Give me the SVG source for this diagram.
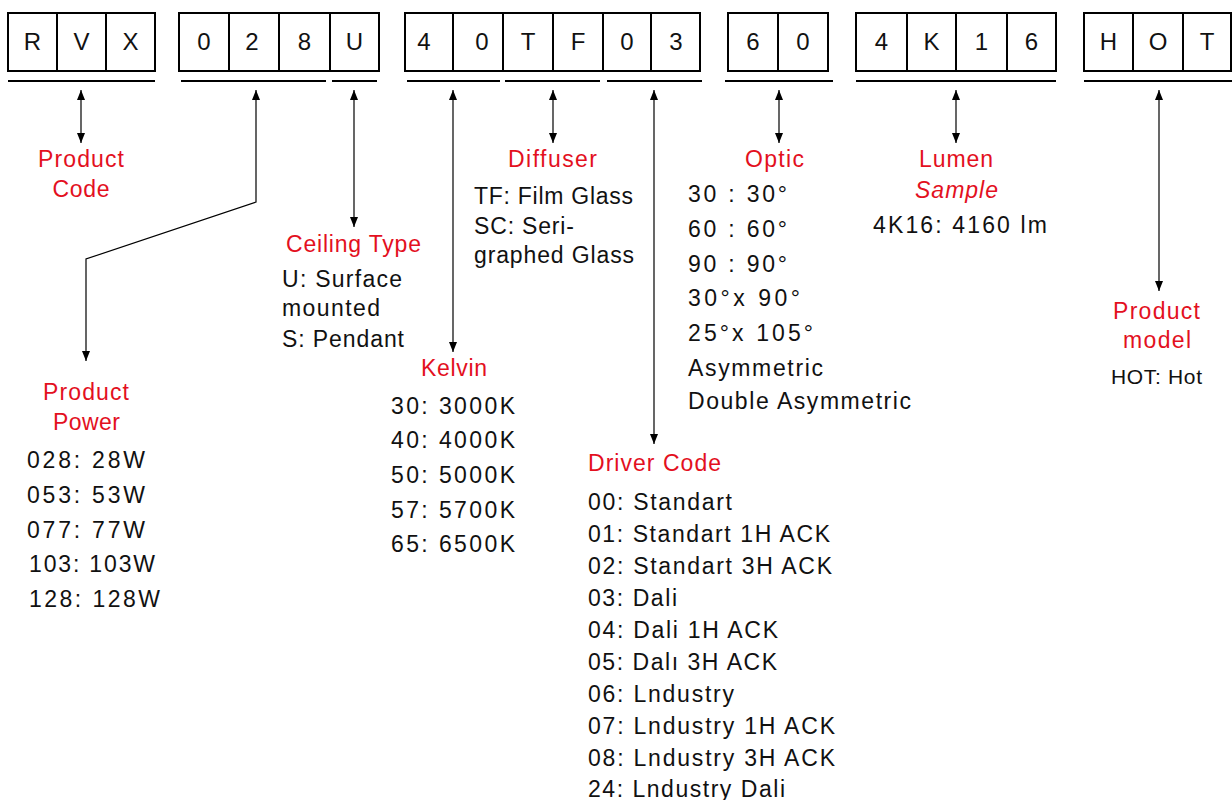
<svg xmlns="http://www.w3.org/2000/svg" width="1232" height="800" viewBox="0 0 1232 800">
<style>
text{font-family:"Liberation Sans",Arial,sans-serif;font-size:23px;fill:#111}
.r{fill:#e3101e}
.c{text-anchor:middle}
.bx{font-size:24px}
.sm{font-size:21px}
.it{font-style:italic}
.box{fill:#fff;stroke:#000;stroke-width:2}
.dv{stroke:#000;stroke-width:2}
.ul{stroke:#000;stroke-width:2.2}
.ar{fill:none;stroke:#000;stroke-width:1.2;marker-start:url(#ah);marker-end:url(#ah)}
</style>
<defs>
<marker id="ah" markerUnits="userSpaceOnUse" markerWidth="10" markerHeight="8" refX="10" refY="4" orient="auto-start-reverse"><path d="M0,0 L10,4 L0,8 z" fill="#000"/></marker>
</defs>
<rect width="1232" height="800" fill="#fff"/>

<g id="code-boxes">
<rect class="box" x="8" y="13" width="147" height="58"/>
<line class="dv" x1="57" y1="13" x2="57" y2="71"/><line class="dv" x1="106" y1="13" x2="106" y2="71"/>
<text class="c bx" x="32.5" y="50">R</text><text class="c bx" x="81.5" y="50">V</text><text class="c bx" x="130.5" y="50">X</text>

<rect class="box" x="179" y="13" width="200" height="58"/>
<line class="dv" x1="229" y1="13" x2="229" y2="71"/><line class="dv" x1="279" y1="13" x2="279" y2="71"/><line class="dv" x1="330" y1="13" x2="330" y2="71"/>
<text class="c bx" x="204" y="50">0</text><text class="c bx" x="252" y="50">2</text><text class="c bx" x="304.5" y="50">8</text><text class="c bx" x="354.5" y="50">U</text>

<rect class="box" x="405" y="13" width="295" height="58"/>
<line class="dv" x1="453" y1="13" x2="453" y2="71"/><line class="dv" x1="503" y1="13" x2="503" y2="71"/><line class="dv" x1="553" y1="13" x2="553" y2="71"/><line class="dv" x1="603" y1="13" x2="603" y2="71"/><line class="dv" x1="651" y1="13" x2="651" y2="71"/>
<text class="c bx" x="424" y="50">4</text><text class="c bx" x="482" y="50">0</text><text class="c bx" x="528" y="50">T</text><text class="c bx" x="578" y="50">F</text><text class="c bx" x="627" y="50">0</text><text class="c bx" x="676" y="50">3</text>

<rect class="box" x="728" y="13" width="100" height="58"/>
<line class="dv" x1="778" y1="13" x2="778" y2="71"/>
<text class="c bx" x="753" y="50">6</text><text class="c bx" x="803" y="50">0</text>

<rect class="box" x="856" y="13" width="200" height="58"/>
<line class="dv" x1="907" y1="13" x2="907" y2="71"/><line class="dv" x1="956" y1="13" x2="956" y2="71"/><line class="dv" x1="1007" y1="13" x2="1007" y2="71"/>
<text class="c bx" x="881.5" y="50">4</text><text class="c bx" x="931.5" y="50">K</text><text class="c bx" x="981.5" y="50">1</text><text class="c bx" x="1031.5" y="50">6</text>

<rect class="box" x="1084" y="13" width="147" height="58"/>
<line class="dv" x1="1133" y1="13" x2="1133" y2="71"/><line class="dv" x1="1183" y1="13" x2="1183" y2="71"/>
<text class="c bx" x="1108.5" y="50">H</text><text class="c bx" x="1158" y="50">O</text><text class="c bx" x="1207" y="50">T</text>
</g>

<g id="underlines">
<line class="ul" x1="8" y1="81" x2="155" y2="81"/>
<line class="ul" x1="181" y1="81" x2="326" y2="81"/>
<line class="ul" x1="332" y1="81" x2="377" y2="81"/>
<line class="ul" x1="407" y1="81" x2="500" y2="81"/>
<line class="ul" x1="505" y1="81" x2="600" y2="81"/>
<line class="ul" x1="607" y1="81" x2="702" y2="81"/>
<line class="ul" x1="725" y1="81" x2="833" y2="81"/>
<line class="ul" x1="856" y1="81" x2="1056" y2="81"/>
<line class="ul" x1="1084" y1="81" x2="1232" y2="81"/>
</g>

<g id="connectors">
<path class="ar" d="M81,90 V143"/>
<path class="ar" d="M256,90 V202 L86,259 V361"/>
<path class="ar" d="M354,90 V227"/>
<path class="ar" d="M453,90 V352"/>
<path class="ar" d="M553,90 V143"/>
<path class="ar" d="M654,90 V444"/>
<path class="ar" d="M779,90 V143"/>
<path class="ar" d="M956,90 V143"/>
<path class="ar" d="M1159,90 V291"/>
</g>

<g id="product-code">
<text class="r c" x="81" y="167" textLength="86" lengthAdjust="spacing">Product</text>
<text class="r c" x="81" y="197" textLength="57" lengthAdjust="spacing">Code</text>
</g>

<g id="product-power">
<text class="r c" x="86" y="400" textLength="86" lengthAdjust="spacing">Product</text>
<text class="r c" x="86.5" y="430" textLength="67" lengthAdjust="spacing">Power</text>
<text x="27" y="468" textLength="118" lengthAdjust="spacing">028: 28W</text>
<text x="27" y="503" textLength="118" lengthAdjust="spacing">053: 53W</text>
<text x="27" y="538" textLength="118" lengthAdjust="spacing">077: 77W</text>
<text x="29" y="572" textLength="126" lengthAdjust="spacing">103: 103W</text>
<text x="29" y="607" textLength="131" lengthAdjust="spacing">128: 128W</text>
</g>

<g id="ceiling-type">
<text class="r c" x="353.5" y="252" textLength="135" lengthAdjust="spacing">Ceiling Type</text>
<text x="282" y="287" textLength="120" lengthAdjust="spacing">U: Surface</text>
<text x="282" y="316" textLength="98" lengthAdjust="spacing">mounted</text>
<text x="282" y="347" textLength="122" lengthAdjust="spacing">S: Pendant</text>
</g>

<g id="kelvin">
<text class="r c" x="454" y="376" textLength="66" lengthAdjust="spacing">Kelvin</text>
<text x="391" y="414" textLength="124" lengthAdjust="spacing">30: 3000K</text>
<text x="391" y="448" textLength="124" lengthAdjust="spacing">40: 4000K</text>
<text x="391" y="483" textLength="124" lengthAdjust="spacing">50: 5000K</text>
<text x="391" y="518" textLength="124" lengthAdjust="spacing">57: 5700K</text>
<text x="391" y="552" textLength="124" lengthAdjust="spacing">65: 6500K</text>
</g>

<g id="diffuser">
<text class="r c" x="552.5" y="167" textLength="89" lengthAdjust="spacing">Diffuser</text>
<text x="474" y="204" textLength="159" lengthAdjust="spacing">TF: Film Glass</text>
<text x="474" y="234" textLength="100" lengthAdjust="spacing">SC: Seri-</text>
<text x="474" y="263" textLength="160" lengthAdjust="spacing">graphed Glass</text>
</g>

<g id="driver-code">
<text class="r" x="588" y="471" textLength="133" lengthAdjust="spacing">Driver Code</text>
<text x="588" y="510" textLength="144" lengthAdjust="spacing">00: Standart</text>
<text x="588" y="542" textLength="242" lengthAdjust="spacing">01: Standart 1H ACK</text>
<text x="588" y="574" textLength="244" lengthAdjust="spacing">02: Standart 3H ACK</text>
<text x="588" y="606" textLength="89" lengthAdjust="spacing">03: Dali</text>
<text x="588" y="638" textLength="190" lengthAdjust="spacing">04: Dali 1H ACK</text>
<text x="588" y="670" textLength="189" lengthAdjust="spacing">05: Dalı 3H ACK</text>
<text x="588" y="702" textLength="146" lengthAdjust="spacing">06: Lndustry</text>
<text x="588" y="734" textLength="247" lengthAdjust="spacing">07: Lndustry 1H ACK</text>
<text x="588" y="766" textLength="247" lengthAdjust="spacing">08: Lndustry 3H ACK</text>
<text x="588" y="797" textLength="197" lengthAdjust="spacing">24: Lndustry Dali</text>
</g>

<g id="optic">
<text class="r c" x="774.5" y="167" textLength="59" lengthAdjust="spacing">Optic</text>
<text x="688" y="202" textLength="99" lengthAdjust="spacing">30 : 30°</text>
<text x="688" y="237" textLength="99" lengthAdjust="spacing">60 : 60°</text>
<text x="688" y="272" textLength="99" lengthAdjust="spacing">90 : 90°</text>
<text x="688" y="306" textLength="112" lengthAdjust="spacing">30°x 90°</text>
<text x="688" y="341" textLength="125" lengthAdjust="spacing">25°x 105°</text>
<text x="688" y="376" textLength="135" lengthAdjust="spacing">Asymmetric</text>
<text x="688" y="409" textLength="223" lengthAdjust="spacing">Double Asymmetric</text>
</g>

<g id="lumen">
<text class="r c" x="956" y="167" textLength="74" lengthAdjust="spacing">Lumen</text>
<text class="r c it" x="956.5" y="198" textLength="83" lengthAdjust="spacing">Sample</text>
<text class="c" x="960" y="233" textLength="174" lengthAdjust="spacing">4K16: 4160 lm</text>
</g>

<g id="product-model">
<text class="r c" x="1156.5" y="319" textLength="87" lengthAdjust="spacing">Product</text>
<text class="r c" x="1157" y="348" textLength="68" lengthAdjust="spacing">model</text>
<text class="c sm" x="1156.5" y="384" textLength="91" lengthAdjust="spacing">HOT: Hot</text>
</g>
</svg>
